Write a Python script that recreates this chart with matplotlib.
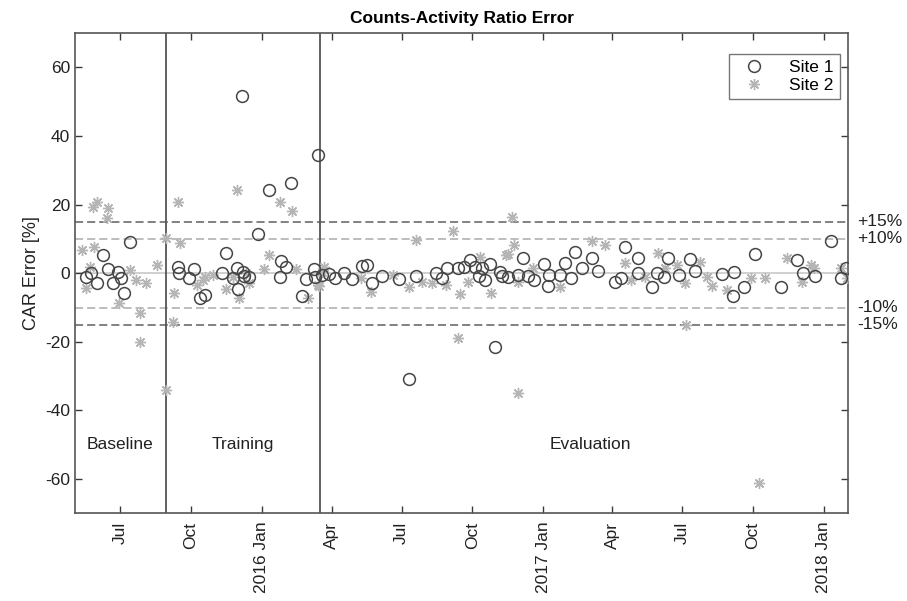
import matplotlib
matplotlib.use("Agg")
import matplotlib.pyplot as plt
import matplotlib.dates as mdates
import numpy as np

plt.rcParams['font.family'] = ['Liberation Sans', 'DejaVu Sans']
plt.rcParams['axes.unicode_minus'] = False

# ---------------- data ----------------
site1_dates = [
    '2015-05-17', '2015-05-24', '2015-06-01', '2015-06-08', '2015-06-15', '2015-06-21',
    '2015-06-28', '2015-07-02', '2015-07-06', '2015-07-13',
    '2015-09-14', '2015-09-15', '2015-09-28', '2015-10-05', '2015-10-12', '2015-10-19',
    '2015-11-10', '2015-11-16', '2015-11-24', '2015-11-30', '2015-12-01', '2015-12-07',
    '2015-12-06', '2015-12-09', '2015-12-16', '2015-12-27', '2016-01-11', '2016-01-25',
    '2016-01-26', '2016-02-01', '2016-02-08', '2016-02-22', '2016-02-28', '2016-03-09',
    '2016-03-10', '2016-03-14',
    '2016-03-20', '2016-03-29', '2016-04-05', '2016-04-17', '2016-04-27', '2016-05-10',
    '2016-05-17', '2016-05-24', '2016-06-06', '2016-06-27', '2016-07-11', '2016-07-19',
    '2016-08-15', '2016-08-23', '2016-08-29', '2016-09-12', '2016-09-20', '2016-09-28',
    '2016-10-04', '2016-10-10', '2016-10-13', '2016-10-18', '2016-10-24', '2016-10-31',
    '2016-11-06', '2016-11-08', '2016-11-16', '2016-11-29', '2016-12-06', '2016-12-12',
    '2016-12-20', '2017-01-02', '2017-01-08', '2017-01-09', '2017-01-23', '2017-01-30',
    '2017-02-06', '2017-02-12', '2017-02-20', '2017-03-06', '2017-03-14', '2017-04-04',
    '2017-04-12', '2017-04-17', '2017-05-04', '2017-05-05', '2017-05-23', '2017-05-29',
    '2017-06-07', '2017-06-13', '2017-06-27', '2017-07-11', '2017-07-18', '2017-08-22',
    '2017-09-05', '2017-09-07', '2017-09-19', '2017-10-04', '2017-11-07', '2017-11-28',
    '2017-12-05', '2017-12-21', '2018-01-11', '2018-01-23', '2018-01-30',
]
site1_values = [
    -1.0, 0.2, -2.9, 5.3, 1.2, -2.9,
    0.5, -1.5, -5.8, 9.2,
    1.9, 0.0, -1.3, 1.2, -7.1, -6.3,
    0.0, 5.8, -1.5, 1.5, -4.7, 0.5,
    51.7, -0.8, -1.0, 11.4, 24.3, -1.0,
    3.6, 1.9, 26.2, -6.6, -1.7, 1.2,
    -1.0, 34.5,
    -0.5, -0.2, -1.3, 0.0, -1.7, 2.1,
    2.4, -2.9, -0.8, -1.7, -30.7, -0.8,
    0.2, -1.5, 1.6, 1.5, 1.7, 3.9,
    1.9, -0.8, 1.5, -2.0, 2.6, -21.4,
    0.5, -0.8, -1.2, -0.5, 4.4, -0.8,
    -2.1, 2.7, -3.7, -0.5, -0.5, 2.9,
    -1.5, 6.1, 1.5, 4.4, 0.8, -2.4,
    -1.3, 7.8, 4.4, 0.2, -4.1, 0.2,
    -1.0, 4.4, -0.5, 4.1, 0.8, -0.3,
    -6.5, 0.5, -3.9, 5.6, -4.1, 3.9,
    0.2, -0.8, 9.4, -1.3, 1.5,
]

site2_dates = [
    '2015-05-12', '2015-05-17', '2015-05-23', '2015-05-27', '2015-05-28', '2015-06-01',
    '2015-06-13', '2015-06-15', '2015-06-29', '2015-07-14', '2015-07-21', '2015-07-26',
    '2015-07-27', '2015-08-04', '2015-08-18', '2015-08-29', '2015-08-30',
    '2015-09-08', '2015-09-09', '2015-09-14', '2015-09-16', '2015-10-09', '2015-10-16',
    '2015-10-19', '2015-10-29', '2015-11-15', '2015-11-24', '2015-11-30', '2015-12-03',
    '2015-12-11', '2015-12-16', '2016-01-04', '2016-01-10', '2016-01-25', '2016-02-09',
    '2016-02-15', '2016-03-01', '2016-03-14', '2016-03-20',
    '2016-03-22', '2016-03-16', '2016-05-09', '2016-05-22', '2016-06-20', '2016-07-11',
    '2016-07-19', '2016-07-27', '2016-08-09', '2016-08-28', '2016-09-06', '2016-09-12',
    '2016-09-15', '2016-09-25', '2016-10-11', '2016-10-25', '2016-11-14', '2016-11-16',
    '2016-11-22', '2016-11-24', '2016-11-29', '2016-11-30', '2016-12-19', '2017-01-23',
    '2017-03-05', '2017-03-22', '2017-04-17', '2017-04-25', '2017-05-13', '2017-05-30',
    '2017-06-09', '2017-06-24', '2017-07-04', '2017-07-06', '2017-07-24', '2017-08-02',
    '2017-08-09', '2017-08-28', '2017-09-28', '2017-10-09', '2017-10-17', '2017-11-14',
    '2017-12-04', '2017-12-15', '2017-12-19', '2018-01-23', '2018-02-01',
]
site2_values = [
    6.8, -4.4, 1.9, 19.4, 7.6, 20.9,
    16.0, 19.0, -8.7, 1.0, -2.0, -11.7,
    -20.0, -2.9, 2.4, 10.2, -34.0,
    -14.1, -5.7, 20.7, 8.9, -3.4, -2.0,
    -1.0, -0.5, -4.7, -1.0, 24.3, -7.3,
    0.0, -2.9, 1.2, 5.3, 20.7, 18.3,
    1.2, -7.3, -3.4, 0.5,
    1.9, -3.7, -1.5, -5.4, -0.5, -3.9,
    9.7, -2.4, -2.9, -3.4, 12.3, -19.0,
    -6.0, -2.4, 4.7, -5.7, 5.3, 5.6,
    16.5, 8.3, -2.4, -35.0, 1.5, -3.9,
    9.5, 8.3, 2.9, -2.0, -1.0, 5.8,
    1.5, 2.4, -2.9, -15.1, 3.4, -1.0,
    -3.7, -4.9, -1.3, -61.0, -1.3, 4.4,
    -2.4, 2.4, 1.5, 1.5, -1.5,
]

phase_names = ['Baseline', 'Training', 'Evaluation']
phase_bounds = ['2015-08-30', '2016-03-17']
phase_label_dates = ['2015-07-01', '2015-12-07', '2017-03-04']
phase_label_y = -50

limit_levels = [15, 10, -10, -15]
limit_labels = ['+15%', '+10%', '-10%', '-15%']

tick_dates = ['2015-07-01', '2015-10-01', '2016-01-01', '2016-04-01', '2016-07-01',
              '2016-10-01', '2017-01-01', '2017-04-01', '2017-07-01', '2017-10-01',
              '2018-01-01']
tick_labels = ['Jul', 'Oct', '2016 Jan', 'Apr', 'Jul', 'Oct', '2017 Jan', 'Apr', 'Jul',
               'Oct', '2018 Jan']
x_range = ['2015-05-03', '2018-02-02']
y_ticks = [-60, -40, -20, 0, 20, 40, 60]

# ---------------- plot ----------------
def to_num(lst):
    return mdates.date2num(np.array(lst, dtype='datetime64[D]'))

fig = plt.figure(figsize=(9.07, 6.01), dpi=100)
ax = fig.add_axes([0.0827, 0.1458, 0.8525, 0.7990])

FS = 12.5
dark = '#3a3a3a'

ax.axhline(0, color='#c8c8c8', lw=1.2, zorder=1)
for lev in limit_levels:
    if abs(lev) == 15:
        ax.axhline(lev, color='#777777', lw=1.3, ls=(0, (4.5, 2.2)), zorder=1)
    else:
        ax.axhline(lev, color='#b8b8b8', lw=1.3, ls=(0, (4.5, 2.2)), zorder=1)
for b in to_num(phase_bounds):
    ax.axvline(b, color='#555555', lw=1.3, zorder=2)

ax.plot(to_num(site2_dates), site2_values, ls='none', marker=(8, 2, 0),
        ms=8, mew=1.0, color='#b5b5b5', zorder=3, label='Site 2')
ax.plot(to_num(site1_dates), site1_values, ls='none', marker='o', ms=8.5,
        mfc='none', mec='#454545', mew=1.1, zorder=4, label='Site 1')

for name, d in zip(phase_names, to_num(phase_label_dates)):
    ax.text(d, phase_label_y, name, ha='center', va='center', fontsize=FS, color='#222222')

trans = ax.get_yaxis_transform()
for lev, lab in zip(limit_levels, limit_labels):
    ax.text(1.012, lev, lab, transform=trans, ha='left', va='center', fontsize=FS,
            color='#222222', clip_on=False)

ax.set_xlim(to_num(x_range))
ax.set_ylim(-70, 70)
ax.set_yticks(y_ticks)
ax.set_xticks(to_num(tick_dates))
ax.set_xticklabels(tick_labels, rotation=90, fontsize=FS, color='#222222')
ax.tick_params(axis='y', labelsize=FS, labelcolor='#222222')
ax.tick_params(axis='x', pad=6)
ax.tick_params(direction='in', length=5, width=1.0, color=dark, top=True, right=True)
for s in ax.spines.values():
    s.set_color('#555555')
    s.set_linewidth(1.2)

ax.set_ylabel('CAR Error [%]', fontsize=FS + 0.5, color='#222222', labelpad=4)
ax.set_title('Counts-Activity Ratio Error', fontsize=FS, fontweight='bold', pad=7)

h, l = ax.get_legend_handles_labels()
leg = ax.legend([h[1], h[0]], [l[1], l[0]], loc='upper right', fontsize=FS,
                frameon=True, fancybox=False, edgecolor='#555555',
                bbox_to_anchor=(1.0, 0.975), handlelength=2.2, borderpad=0.35,
                labelspacing=0.15, handletextpad=0.9)
leg.get_frame().set_linewidth(1.0)

fig.savefig('out.png', dpi=100)
